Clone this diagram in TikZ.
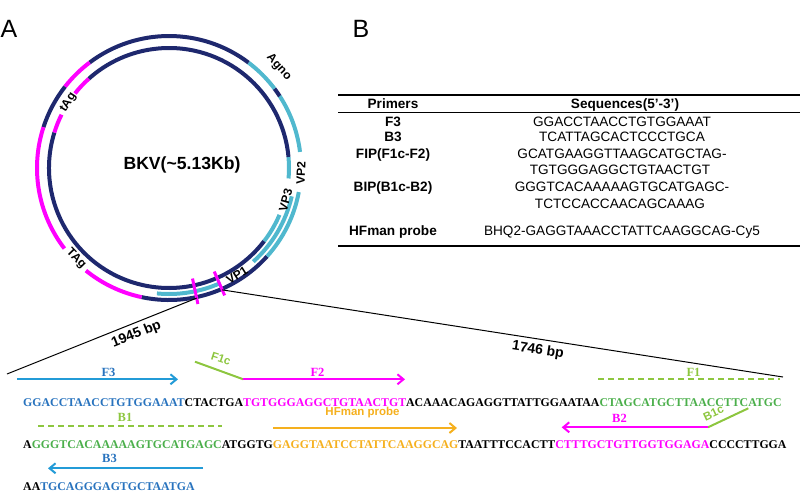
\documentclass[tikz,border=0pt]{standalone}
\usepackage{fontspec}
\setmainfont{Liberation Sans}
\newfontfamily\seqfont{Liberation Serif}
\usetikzlibrary{arrows.meta}

\definecolor{navy}{RGB}{30,40,110}
\definecolor{vpblue}{RGB}{80,184,206}
\definecolor{mag}{RGB}{255,0,255}
\definecolor{seqblue}{RGB}{40,115,190}
\definecolor{arrblue}{RGB}{35,155,215}
\definecolor{seqgreen}{RGB}{75,175,75}
\definecolor{lime}{RGB}{141,198,63}
\definecolor{probe}{RGB}{245,176,30}

\tikzset{
  ring/.style={line width=4pt},
  glabel/.style={inner sep=0pt, font=\bfseries\fontsize{12}{12}\selectfont},
  prim/.style={line width=2pt, -{Straight Barb[length=6pt,width=10pt]}},
  halfprim/.style={line width=2pt, dash pattern=on 6pt off 4pt},
  seq/.style={anchor=base west, inner sep=0pt, font=\seqfont\bfseries\fontsize{11.85}{14}\selectfont},
  annot/.style={inner sep=0pt, font=\seqfont\bfseries\fontsize{12.5}{13}\selectfont},
  sannot/.style={inner sep=0pt, font=\bfseries\fontsize{11.5}{12}\selectfont},
  cell/.style={anchor=base, inner sep=0pt, font=\fontsize{13.6}{15}\selectfont},
  headcell/.style={cell, font=\bfseries\fontsize{13.6}{15}\selectfont},
}

\begin{document}
\begin{tikzpicture}[x=1pt,y=-1pt]
\useasboundingbox (0,0) rectangle (800,491);

\node[font=\fontsize{25}{25}\selectfont] (pa) at (9,29) {A};
\node[font=\fontsize{25}{25}\selectfont] (pb) at (361,29) {B};

% genome map
\begin{scope}[shift={(169,168)},yscale=-1]
  \foreach \c/\r/\a/\b in {navy/132/258/318, vpblue/132/318/349.5, vpblue/132/7/33,
      navy/132/33/37, vpblue/132/37/53, navy/132/53/127, mag/132/127/142,
      navy/132/142/162, mag/132/162/217.6, mag/132/231/258,
      navy/120/162.8/322.5, vpblue/120/322.5/337, vpblue/120/355/365.3,
      navy/120/5.3/132, mag/120/132/141.6, mag/120/153.6/162.8,
      vpblue/126/264.5/294, vpblue/126/312/347}
    \draw[ring,\c] (\a:\r) arc[start angle=\a, end angle=\b, radius=\r];
  \foreach \a in {-78,-66.4}
    \draw[mag,line width=3pt] (\a:113) -- (\a:139);
  \coordinate (z1) at (-78:133);
  \coordinate (z2) at (-66.4:133);
  \node[glabel,rotate=-47.5] (agno) at (42.5:149) {Agno};
  \node[glabel,rotate=88] (vp2) at (-2:132) {VP2};
  \node[glabel,rotate=74.6] (vp3) at (-15.4:121) {VP3};
  \node[glabel,rotate=32.4] (vp1) at (-57.6:127) {VP1};
  \node[glabel,rotate=-45.6] (bigtag) at (224.4:130) {TAg};
  \node[glabel,rotate=57] (smalltag) at (147:120) {tAg};
  \node[font=\bfseries\fontsize{17.6}{20}\selectfont] (bkv) at (13,3) {BKV(\textasciitilde5.13Kb)};
\end{scope}

% zoom lines
\coordinate (e1) at (7,374);
\coordinate (e2) at (783,377);
\draw[line width=1pt] (e1) -- node[sloped,below=1pt,pos=0.66,font=\bfseries\fontsize{14}{14}\selectfont] (bp1) {1945 bp} (z1);
\draw[line width=1pt] (z2) -- node[sloped,below=1pt,pos=0.566,font=\bfseries\fontsize{14}{14}\selectfont] (bp2) {1746 bp} (e2);

% primer table
\draw[line width=1.8pt] (338,95) -- (800,95);
\draw[line width=0.9pt] (338,112.5) -- (800,112.5);
\draw[line width=1.8pt] (338,246) -- (800,246);
\node[headcell] (h1) at (393,108.8) {Primers};
\node[headcell] (h2) at (625,108.8) {Sequences(5’-3’)};
\node[headcell] (r1) at (393,126.5) {F3};
\node[headcell] (r2) at (393,141.8) {B3};
\node[headcell] (r3) at (393,158.8) {FIP(F1c-F2)};
\node[headcell] (r4) at (393,191.8) {BIP(B1c-B2)};
\node[headcell] (r5) at (393,235.5) {HFman probe};
\node[cell] (q1) at (622,126.5) {GGACCTAACCTGTGGAAAT};
\node[cell] (q2) at (622,141.8) {TCATTAGCACTCCCTGCA};
\node[cell] (q3) at (622,158.8) {GCATGAAGGTTAAGCATGCTAG-};
\node[cell] (q3b) at (620,174.8) {TGTGGGAGGCTGTAACTGT};
\node[cell] (q4) at (622,191.8) {GGGTCACAAAAAGTGCATGAGC-};
\node[cell] (q4b) at (620,208.8) {TCTCCACCAACAGCAAAG};
\node[cell] (q5) at (622,235.5) {BHQ2-GAGGTAAACCTATTCAAGGCAG-Cy5};

% target sequence
\node[seq] (s1) at (23,406) {\textcolor{seqblue}{GGACCTAACCTGTGGAAAT}CTACTGA\textcolor{mag}{TGTGGGAGGCTGTAACTGT}ACAAACAGAGGTTATTGGAATAA\textcolor{seqgreen}{CTAGCATGCTTAACCTTCATGC}};
\node[seq] (s2) at (23,448) {A\textcolor{seqgreen}{GGGTCACAAAAAGTGCATGAGC}ATGGTG\textcolor{probe}{GAGGTAATCCTATTCAAGGCAG}TAATTTCCACTT\textcolor{mag}{CTTTGCTGTTGGTGGAGA}CCCCTTGGA};
\node[seq] (s3) at (23,490) {AA\textcolor{seqblue}{TGCAGGGAGTGCTAATGA}};

% primer regions
\coordinate (f3a) at (17,379.3);   \coordinate (f3b) at (178,379.3);
\coordinate (f1ca) at (195,361.7); \coordinate (f2a) at (243.3,379.3);
\coordinate (f2b) at (405,379.3);
\coordinate (f1a) at (598,379.3);  \coordinate (f1b) at (780,379.3);
\coordinate (b1a) at (38,426);     \coordinate (b1b) at (222,426);
\coordinate (pra) at (273,428);    \coordinate (prb) at (457,428);
\coordinate (b2a) at (708,427.3);  \coordinate (b2b) at (561.7,427.3);
\coordinate (b1ca) at (748.3,408.3);
\coordinate (b3a) at (203,468.3);  \coordinate (b3b) at (48,468.3);

\draw[prim,arrblue] (f3a) -- (f3b);
\draw[line width=2pt,lime] (f1ca) -- (f2a);
\draw[prim,mag] (f2a) -- (f2b);
\draw[halfprim,lime] (f1a) -- (f1b);
\draw[halfprim,lime] (b1a) -- (b1b);
\draw[prim,probe] (pra) -- (prb);
\draw[line width=2pt,lime] (b1ca) -- (b2a);
\draw[prim,mag] (b2a) -- (b2b);
\draw[prim,arrblue] (b3a) -- (b3b);

\node[annot,text=seqblue] (lf3) at (108.5,372.5) {F3};
\node[sannot,text=lime,rotate=-18] (lf1c) at (221,358.5) {F1c};
\node[annot,text=mag] (lf2) at (317.5,372.5) {F2};
\node[annot,text=lime] (lf1) at (693.5,372) {F1};
\node[annot,text=lime] (lb1) at (125,417) {B1};
\node[sannot,text=probe] (lpr) at (362.5,412.5) {HFman probe};
\node[annot,text=mag] (lb2) at (619.5,418) {B2};
\node[sannot,text=lime,rotate=25] (lb1c) at (713.5,413) {B1c};
\node[annot,text=seqblue] (lb3) at (109.5,458.5) {B3};
\end{tikzpicture}
\end{document}
